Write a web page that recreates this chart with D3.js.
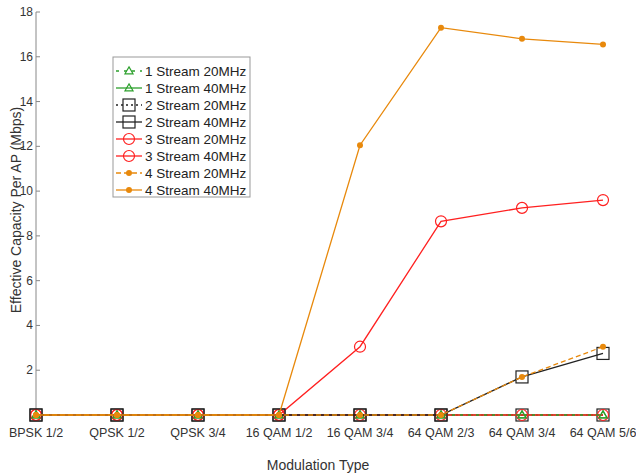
<!doctype html>
<html>
<head>
<script src="https://cdnjs.cloudflare.com/ajax/libs/d3/7.8.5/d3.min.js"></script>
<style>
  body { margin: 0; background: #fff; }
  svg { font-family: "Liberation Sans", Arial, sans-serif; }
</style>
</head>
<body>
<svg id="chart" width="636" height="475"></svg>
<script>
// categories and values
var categories = ["BPSK 1/2", "QPSK 1/2", "QPSK 3/4", "16 QAM 1/2", "16 QAM 3/4", "64 QAM 2/3", "64 QAM 3/4", "64 QAM 5/6"];
var yTicks = [2, 4, 6, 8, 10, 12, 14, 16, 18];

var s1_20 = [0, 0, 0, 0, 0, 0, 0, 0];
var s1_40 = [0, 0, 0, 0, 0, 0, 0, 0];
var s2_20 = [0, 0, 0, 0, 0, 0, 0, 0];
var s2_40 = [0, 0, 0, 0, 0, 0, 1.7, 2.75];
var s3_20 = [0, 0, 0, 0, 0, 0, 0, 0];
var s3_40 = [0, 0, 0, 0, 3.05, 8.65, 9.25, 9.6];
var s4_20 = [0, 0, 0, 0, 0, 0, 1.7, 3.05];
var s4_40 = [0, 0, 0, 0, 12.05, 17.3, 16.8, 16.55];

var series = [
  { name: "1 Stream 20MHz", values: s1_20, color: "#2ca02c", dash: "3,5", marker: "tri" },
  { name: "1 Stream 40MHz", values: s1_40, color: "#2ca02c", dash: null, marker: "tri" },
  { name: "2 Stream 20MHz", values: s2_20, color: "#222", dash: "2,3", marker: "sq" },
  { name: "2 Stream 40MHz", values: s2_40, color: "#222", dash: null, marker: "sq" },
  { name: "3 Stream 20MHz", values: s3_20, color: "#ff2020", dash: null, marker: "circ" },
  { name: "3 Stream 40MHz", values: s3_40, color: "#ff2020", dash: null, marker: "circ" },
  { name: "4 Stream 20MHz", values: s4_20, color: "#e8890c", dash: "5,3", marker: "dot" },
  { name: "4 Stream 40MHz", values: s4_40, color: "#e8890c", dash: null, marker: "dot" }
];
// order of drawing (later on top)
var drawOrder = [2, 1, 4, 5, 0, 3, 6, 7];

var svg = d3.select("#chart");
var x = d3.scalePoint().domain(categories).range([36, 603]);
var y = d3.scaleLinear().domain([0, 18]).range([415, 12]);

// y axis
svg.append("line").attr("x1", 36).attr("x2", 36).attr("y1", y(18)).attr("y2", y(0))
  .attr("stroke", "#888").attr("stroke-width", 1);
svg.selectAll(".ytick").data(yTicks).enter().append("line")
  .attr("x1", 36).attr("x2", 40).attr("y1", d => y(d)).attr("y2", d => y(d))
  .attr("stroke", "#888");
svg.selectAll(".ylab").data(yTicks).enter().append("text")
  .attr("x", 33).attr("y", d => y(d) + 4).attr("text-anchor", "end")
  .attr("font-size", 12).attr("fill", "#333").text(d => d);

svg.selectAll(".xlab").data(categories).enter().append("text")
  .attr("x", d => x(d)).attr("y", 437).attr("text-anchor", "middle")
  .attr("font-size", 12.5).attr("fill", "#333").text(d => d);

svg.append("text").attr("x", 318).attr("y", 470).attr("text-anchor", "middle")
  .attr("font-size", 14).attr("fill", "#333").text("Modulation Type");
svg.append("text").attr("transform", "translate(21,210) rotate(-90)")
  .attr("text-anchor", "middle").attr("font-size", 14).attr("fill", "#333")
  .text("Effective Capacity Per AP (Mbps)");

function drawMarker(g, type, color, cx, cy) {
  if (type === "tri") {
    g.append("path").attr("d", d3.symbol().type(d3.symbolTriangle).size(28)())
      .attr("transform", "translate(" + cx + "," + (cy + 0.5) + ")")
      .attr("fill", "none").attr("stroke", color).attr("stroke-width", 1.2);
  } else if (type === "sq") {
    g.append("rect").attr("x", cx - 6).attr("y", cy - 6).attr("width", 12).attr("height", 12)
      .attr("fill", "none").attr("stroke", color).attr("stroke-width", 1.2);
  } else if (type === "circ") {
    g.append("circle").attr("cx", cx).attr("cy", cy).attr("r", 5.5)
      .attr("fill", "none").attr("stroke", color).attr("stroke-width", 1.2);
  } else {
    g.append("circle").attr("cx", cx).attr("cy", cy).attr("r", 3)
      .attr("fill", color);
  }
}

var line = d3.line().x((d, i) => x(categories[i])).y(d => y(d));

drawOrder.forEach(function (k) {
  var s = series[k];
  var g = svg.append("g");
  g.append("path").attr("d", line(s.values)).attr("fill", "none")
    .attr("stroke", s.color).attr("stroke-width", 1.3)
    .attr("stroke-dasharray", s.dash);
  s.values.forEach(function (v, i) {
    drawMarker(g, s.marker, s.color, x(categories[i]), y(v));
  });
});

// legend
var lg = svg.append("g");
lg.append("rect").attr("x", 113).attr("y", 57).attr("width", 137).attr("height", 140)
  .attr("fill", "#fff").attr("stroke", "#999");
series.forEach(function (s, i) {
  var cy = 71 + i * 17;
  lg.append("line").attr("x1", 116).attr("x2", 142).attr("y1", cy).attr("y2", cy)
    .attr("stroke", s.color).attr("stroke-width", 1.3).attr("stroke-dasharray", s.dash);
  drawMarker(lg, s.marker, s.color, 129, cy);
  lg.append("text").attr("x", 145).attr("y", cy + 5).attr("font-size", 13.5)
    .attr("fill", "#222").text(s.name);
});
</script>
</body>
</html>
